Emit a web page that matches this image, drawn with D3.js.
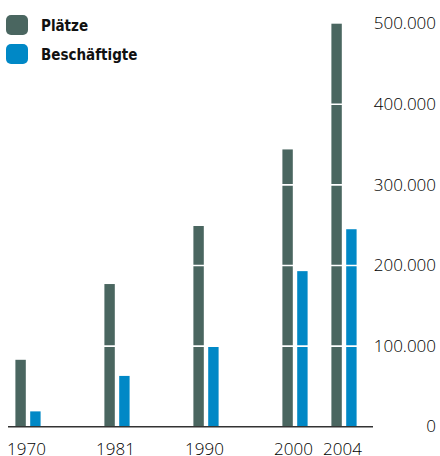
<!DOCTYPE html>
<html>
<head>
<meta charset="utf-8">
<script src="https://cdn.jsdelivr.net/npm/d3@7"></script>
<style>
  body { margin: 0; background: #fff; }
  svg { display: block; }
</style>
</head>
<body>
<svg class="svg"></svg>
<script>
let years = [1970, 1981, 1990, 2000, 2004]
let plaetze = [83000, 177000, 249000, 344000, 500000]
let beschaeftigte = [19000, 63000, 99000, 193000, 245000]
let yTicks = [0, 100000, 200000, 300000, 400000, 500000]
let seriesNames = ["Plätze", "Beschäftigte"]
let colorArr = ["#4a6660", "#0088c6"]

let svg = d3.select(".svg").attr("width", 440).attr("height", 456)

// the years are not evenly spaced on the page, so piecewise scale
let x = d3.scaleLinear().domain(years).range([28, 117, 206, 295, 344])
let y = d3.scaleLinear().domain([0, 500000]).range([426.7, 23.7])
let barW = 10.4
let offset = 7.4

let bars = svg.append("g")
bars.selectAll("rect.p")
  .data(years)
  .enter()
  .append("rect")
  .attr("class", "p")
  .attr("x", (d) => x(d) - offset - barW / 2)
  .attr("y", (d, i) => y(plaetze[i]))
  .attr("width", barW)
  .attr("height", (d, i) => y(0) - y(plaetze[i]))
  .attr("fill", colorArr[0])

bars.selectAll("rect.b")
  .data(years)
  .enter()
  .append("rect")
  .attr("class", "b")
  .attr("x", (d) => x(d) + offset - barW / 2)
  .attr("y", (d, i) => y(beschaeftigte[i]))
  .attr("width", barW)
  .attr("height", (d, i) => y(0) - y(beschaeftigte[i]))
  .attr("fill", colorArr[1])

// white grid lines cut through the bars
svg.append("g")
  .selectAll("line")
  .data(yTicks.filter((d) => d > 0 && d < 500000))
  .enter()
  .append("line")
  .attr("x1", 8)
  .attr("x2", 373)
  .attr("y1", (d) => y(d))
  .attr("y2", (d) => y(d))
  .attr("stroke", "#fff")
  .attr("stroke-width", 1.6)

// y axis labels on the right
let yAxis = d3.axisRight(y)
  .tickValues(yTicks)
  .tickSize(0)
  .tickFormat((d) => d3.format(",")(d).replace(/,/g, "."))
let ya = svg.append("g").attr("transform", "translate(436,0)").call(yAxis)
ya.select(".domain").remove()
ya.selectAll("text")
  .attr("x", 0)
  .attr("dy", "0.3em")
  .attr("text-anchor", "end")
  .attr("fill", "#000")
  .style("font-family", "'Open Sans'")
  .style("font-weight", 300)
  .style("font-size", "17px")

// baseline
svg.append("line")
  .attr("x1", 8)
  .attr("x2", 373)
  .attr("y1", y(0))
  .attr("y2", y(0))
  .attr("stroke", "#333")
  .attr("stroke-width", 1.5)

// year labels
svg.append("g")
  .selectAll("text")
  .data(years)
  .enter()
  .append("text")
  .attr("x", (d) => x(d) - 1.5)
  .attr("y", 455)
  .attr("text-anchor", "middle")
  .attr("fill", "#000")
  .style("font-family", "'Open Sans'")
  .style("font-weight", 300)
  .style("font-size", "17px")
  .text((d) => d)

// legend
let legend = svg.append("g")
legend.selectAll("rect")
  .data(seriesNames)
  .enter()
  .append("rect")
  .attr("x", 6)
  .attr("y", (d, i) => 15 + i * 29)
  .attr("width", 22)
  .attr("height", 20)
  .attr("rx", 5)
  .attr("fill", (d, i) => colorArr[i])
legend.selectAll("text")
  .data(seriesNames)
  .enter()
  .append("text")
  .attr("x", 41)
  .attr("y", (d, i) => 25.5 + i * 29)
  .attr("dy", "0.35em")
  .attr("fill", "#111")
  .style("font-family", "'DejaVu Sans Condensed', 'DejaVu Sans'")
  .style("font-stretch", "condensed")
  .style("font-weight", 700)
  .style("font-size", "15px")
  .text((d) => d)
</script>
</body>
</html>
